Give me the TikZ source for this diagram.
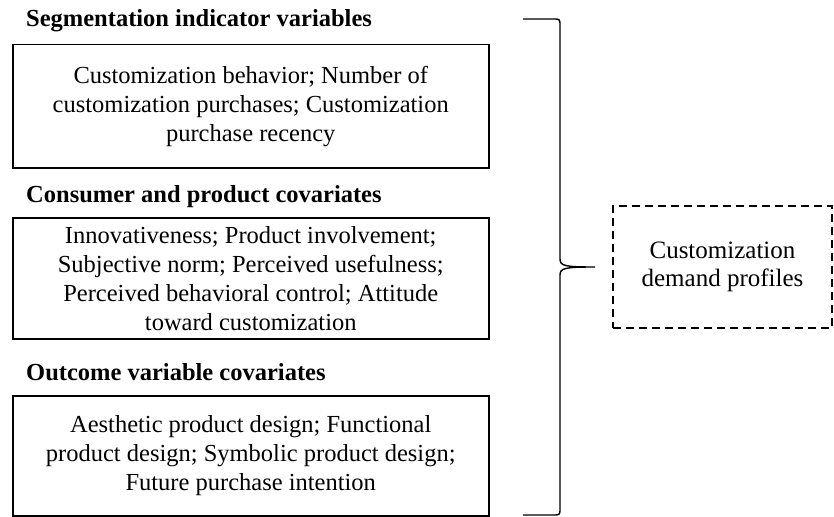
\documentclass[tikz,border=0pt]{standalone}
\usepackage{fontspec}
\setmainfont{Liberation Serif}
\usetikzlibrary{positioning}

\tikzset{
  vartitle/.style={font=\fontsize{24.5}{28.5}\selectfont\bfseries, anchor=base west, inner sep=0pt},
  varbox/.style={draw, line width=1.5pt, anchor=north west, minimum width=476pt, align=center,
                 inner sep=0pt, font=\fontsize{24.5}{29}\selectfont},
  profilebox/.style={draw, dashed, dash pattern=on 8pt off 5pt, line width=1.2pt, minimum width=219pt,
                     minimum height=122pt, align=center, inner sep=0pt, font=\fontsize{25}{28.5}\selectfont}
}

\begin{document}
\begin{tikzpicture}[x=1pt, y=1pt]
        \useasboundingbox (0,0) rectangle (834,-516);
        % --- Grupos de variables (izquierda) ---
        \node[vartitle] (segTitle) at (26,-27) {Segmentation indicator variables};
        \node[varbox, minimum height=123pt] (segBox) at (12,-44)
              {Customization behavior; Number of\\customization purchases; Customization\\purchase recency};

        \node[vartitle] (conTitle) at (26,-202) {Consumer and product covariates};
        \node[varbox, minimum height=121pt] (conBox) at (12,-217)
              {Innovativeness; Product involvement;\\Subjective norm; Perceived usefulness;\\Perceived behavioral control; Attitude\\toward customization};

        \node[vartitle] (outTitle) at (26,-380) {Outcome variable covariates};
        \node[varbox, minimum height=120pt] (outBox) at (12,-395)
              {Aesthetic product design; Functional\\product design; Symbolic product design;\\Future purchase intention};

        % --- Perfiles (derecha) ---
        \node[profilebox] (profiles) at (722.5,-267) {Customization\\demand profiles};

        % --- Llave que agrupa los tres bloques ---
        \coordinate (braceTop) at (523,-19);
        \coordinate (braceBot) at (523,-515);
        \coordinate (braceTip) at (595,-267);
        \draw[line width=1.4pt] (braceTop) -- (553,-19) .. controls (560,-19) .. (560,-26)
              -- (560,-259) .. controls (560,-266) and (565,-267) .. (braceTip)
              .. controls (565,-267) and (560,-268) .. (560,-275)
              -- (560,-508) .. controls (560,-515) .. (553,-515) -- (braceBot);
    \end{tikzpicture}
\end{document}
